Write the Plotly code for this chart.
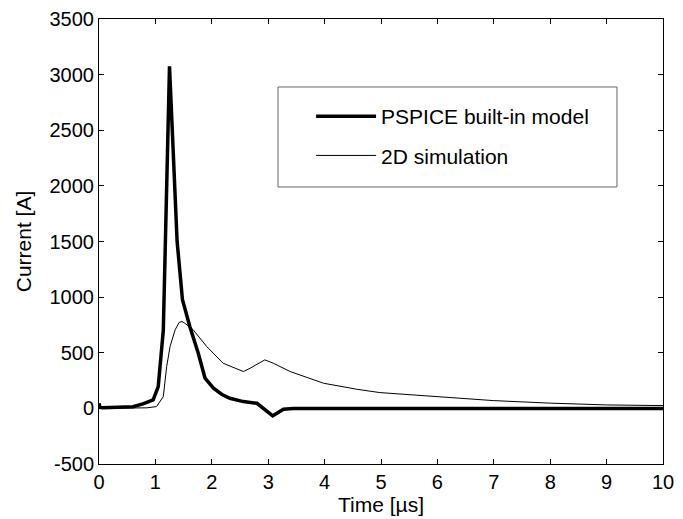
import plotly.graph_objects as go

# PSPICE built-in model (thick)
t_pspice = [0, 0.02, 0.06, 0.3, 0.6, 0.78, 0.96, 1.05, 1.14, 1.25, 1.385, 1.48, 1.61, 1.76,
            1.88, 2.03, 2.18, 2.32, 2.56, 2.80, 2.91, 3.08, 3.27, 3.44, 4.0, 10.0]
i_pspice = [45, 8, 5, 10, 15, 40, 76, 196, 700, 3074, 1500, 976, 736, 496,
            271, 181, 125, 91, 61, 46, 2, -67, -7, -2, 0, 0]

# 2D simulation (thin)
t_2d = [0, 0.5, 0.85, 1.02, 1.14, 1.2, 1.26, 1.35, 1.42, 1.47, 1.52, 1.67, 1.91, 2.20,
        2.56, 2.68, 2.94, 3.09, 3.39, 3.98, 4.57, 4.98, 5.99, 6.99, 8.0, 9.0, 10.0]
i_2d = [0, 2, 5, 16, 106, 376, 556, 706, 772, 781, 766, 706, 556, 406,
        331, 361, 436, 406, 331, 226, 172, 142, 103, 70, 47, 31, 25]

x_ticks = list(range(0, 11))
y_ticks = list(range(-500, 3501, 500))

FONT = "Liberation Sans, Arial, sans-serif"

fig = go.Figure()
fig.add_trace(go.Scatter(x=t_pspice, y=i_pspice, mode="lines", name="PSPICE built-in model",
                         line=dict(color="black", width=3.5), legendgroup="a"))
fig.add_trace(go.Scatter(x=t_2d, y=i_2d, mode="lines", name="2D simulation",
                         line=dict(color="black", width=1), legendgroup="b"))

axis_common = dict(showline=True, linecolor="black", linewidth=1, mirror="ticks",
                   ticks="inside", ticklen=5, tickcolor="black", tickwidth=1,
                   showgrid=False, zeroline=False, automargin=False,
                   tickfont=dict(family=FONT, size=20, color="black"))

fig.update_xaxes(range=[0, 10], tickvals=x_ticks, ticktext=[str(v) for v in x_ticks],
                 title=dict(text="Time [µs]", font=dict(family=FONT, size=21, color="black"),
                            standoff=0), **axis_common)
fig.update_yaxes(range=[-500, 3500], tickvals=y_ticks, ticktext=[str(v) for v in y_ticks],
                 title=dict(text="Current [A]", font=dict(family=FONT, size=21, color="black"),
                            standoff=12), **axis_common)

# legend frame (box drawn around the native legend entries)
fig.add_shape(type="rect", xref="paper", yref="paper",
              x0=0.3174, x1=0.9184, y0=0.6225, y1=0.8472,
              line=dict(color="#666666", width=1), fillcolor="white", layer="above")

fig.update_layout(
    width=683, height=519,
    margin=dict(l=99, r=20, t=19, b=55),
    paper_bgcolor="white", plot_bgcolor="white",
    showlegend=True,
    legend=dict(x=0.376, y=0.827, xanchor="left", yanchor="top",
                borderwidth=0, bgcolor="rgba(0,0,0,0)",
                font=dict(family=FONT, size=21, color="black"),
                tracegroupgap=9, itemwidth=60),
)

fig.write_html("out.html")
